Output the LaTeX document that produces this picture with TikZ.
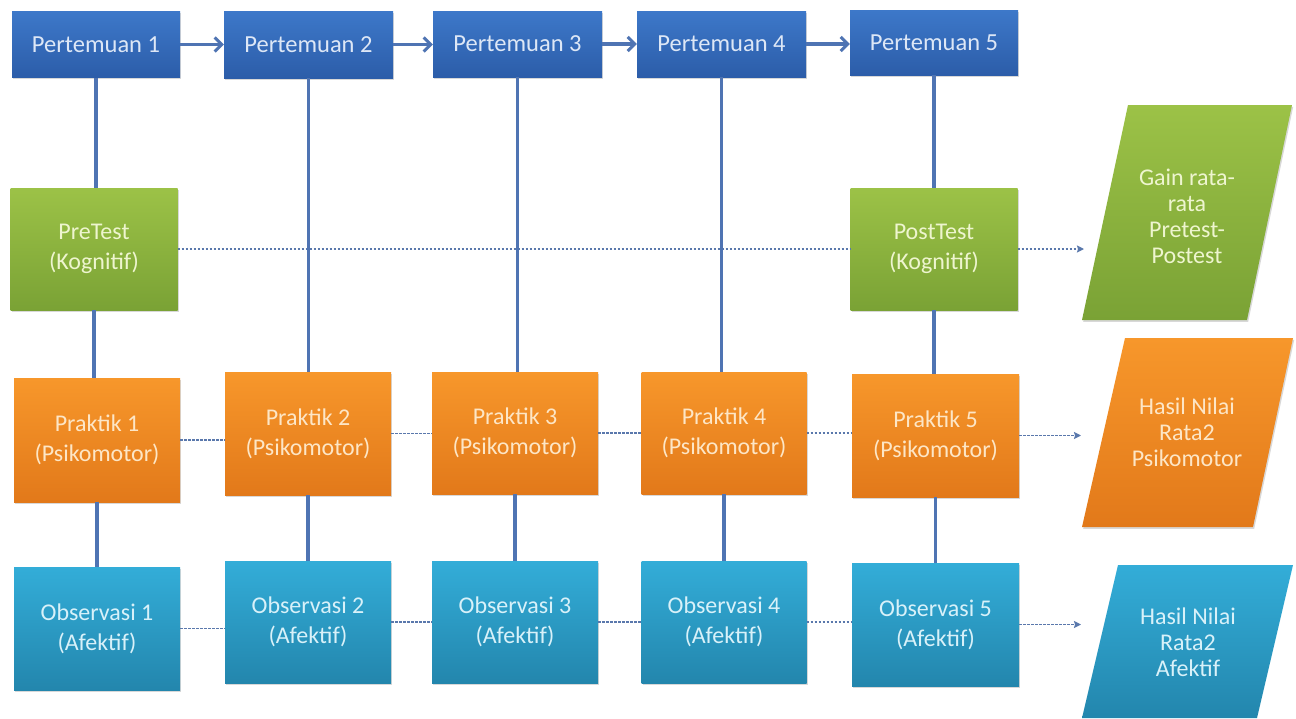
\documentclass[tikz,border=0pt]{standalone}
\usepackage{fontspec}
\setmainfont{Carlito}
\usetikzlibrary{arrows.meta,shadows,calc}
\definecolor{ptop}{HTML}{3D78C9}\definecolor{pbot}{HTML}{2C5DA9}
\definecolor{gtop}{HTML}{9CC247}\definecolor{gbot}{HTML}{7AA235}
\definecolor{otop}{HTML}{F7972B}\definecolor{obot}{HTML}{E2791A}
\definecolor{ctop}{HTML}{33ADD8}\definecolor{cbot}{HTML}{2386AD}
\definecolor{ptxt}{HTML}{DDE7F6}\definecolor{gtxt}{HTML}{EEF5CF}
\definecolor{otxt}{HTML}{FDE6C6}\definecolor{ctxt}{HTML}{D8F1F9}
\definecolor{linec}{HTML}{4F74B3}\definecolor{dotc}{HTML}{5A78AC}
\tikzset{
  boxbase/.style={rectangle,inner sep=0pt,align=center,
    font=\fontsize{24}{30}\selectfont,
    drop shadow={shadow xshift=1.2pt,shadow yshift=-1.8pt,opacity=0.3}},
  meet/.style={boxbase,top color=ptop,bottom color=pbot,text=ptxt,
    font=\fontsize{24.5}{30}\selectfont},
  kog/.style={boxbase,top color=gtop,bottom color=gbot,text=gtxt},
  psi/.style={boxbase,top color=otop,bottom color=obot,text=otxt},
  afe/.style={boxbase,top color=ctop,bottom color=cbot,text=ctxt},
  outtxt/.style={align=center,inner sep=0pt,font=\fontsize{24}{26}\selectfont},
  vline/.style={draw=linec,line width=3.2pt},
  harrow/.style={draw=linec,line width=3.2pt,-{Straight Barb[length=7pt,width=14pt,line width=3pt]}},
  dotline/.style={draw=dotc,line width=1.8pt,dash pattern=on 2.5pt off 1.5pt},
  dotarrow/.style={dotline,-{Stealth[length=7pt,width=7pt,inset=1pt]}},
}
\begin{document}
\begin{tikzpicture}[x=1pt,y=-1pt]
\useasboundingbox[fill=white] (0,0) rectangle (1296,718);
% top row
\node[meet,minimum width=168pt,minimum height=66pt] (p1) at (96,44.5) {Pertemuan 1};
\node[meet,minimum width=169pt,minimum height=67pt] (p2) at (308.5,44.5) {Pertemuan 2};
\node[meet,minimum width=169pt,minimum height=66pt] (p3) at (517.5,44) {Pertemuan 3};
\node[meet,minimum width=169pt,minimum height=66pt] (p4) at (721.5,44) {Pertemuan 4};
\node[meet,minimum width=168pt,minimum height=65pt] (p5) at (934,42.5) {Pertemuan 5};
% kognitif
\node[kog,minimum width=167pt,minimum height=122pt] (pre) at (94,249) {PreTest\\(Kognitif)};
\node[kog,minimum width=167pt,minimum height=122pt] (post) at (934,249) {PostTest\\(Kognitif)};
% psikomotor
\node[psi,minimum width=166pt,minimum height=124pt] (pr1) at (97,440) {Praktik 1\\(Psikomotor)};
\node[psi,minimum width=166pt,minimum height=123pt] (pr2) at (308,433.5) {Praktik 2\\(Psikomotor)};
\node[psi,minimum width=166pt,minimum height=122pt] (pr3) at (515,433) {Praktik 3\\(Psikomotor)};
\node[psi,minimum width=165pt,minimum height=122pt] (pr4) at (724,433) {Praktik 4\\(Psikomotor)};
\node[psi,minimum width=167pt,minimum height=123pt] (pr5) at (935.5,435.5) {Praktik 5\\(Psikomotor)};
% afektif
\node[afe,minimum width=166pt,minimum height=123pt] (ob1) at (97,628.5) {Observasi 1\\(Afektif)};
\node[afe,minimum width=166pt,minimum height=122pt] (ob2) at (308,622) {Observasi 2\\(Afektif)};
\node[afe,minimum width=166pt,minimum height=122pt] (ob3) at (515,622) {Observasi 3\\(Afektif)};
\node[afe,minimum width=165pt,minimum height=122pt] (ob4) at (724,622) {Observasi 4\\(Afektif)};
\node[afe,minimum width=167pt,minimum height=123pt] (ob5) at (935.5,624.5) {Observasi 5\\(Afektif)};
% output parallelograms
\shade[top color=gtop,bottom color=gbot,drop shadow={shadow xshift=1.2pt,shadow yshift=-1.8pt,opacity=0.3}]
  (1128,105) -- (1292,105) -- (1247,320) -- (1082,320) -- cycle;
\shade[top color=otop,bottom color=obot,drop shadow={shadow xshift=1.2pt,shadow yshift=-1.8pt,opacity=0.3}]
  (1125,338) -- (1293,338) -- (1253,527) -- (1082,527) -- cycle;
\shade[top color=ctop,bottom color=cbot]
  (1118,565) -- (1293,565) -- (1257,718) -- (1082,718) -- cycle;
\node[outtxt,text=gtxt] (gain) at (1187,216) {Gain rata-\\rata\\Pretest-\\Postest};
\node[outtxt,text=otxt] (hpsi) at (1187,432) {Hasil Nilai\\Rata2\\Psikomotor};
\node[outtxt,text=ctxt] (hafe) at (1188,642) {Hasil Nilai\\Rata2\\Afektif};
\coordinate (gin) at (1084,249);
\coordinate (pin) at (1081,435.5);
\coordinate (ain) at (1081,624.5);
% horizontal arrows
\foreach \a/\b in {p1/p2,p2/p3,p3/p4,p4/p5}
  \draw[harrow] (\a.east) -- (\a.east -| \b.west);
% dotted connectors
\draw[dotline] (pre.east) -- (pre.east -| post.west);
\draw[dotarrow] (post.east) -- (gin);
\foreach \a/\b in {pr1/pr2,pr2/pr3,pr3/pr4,pr4/pr5,ob1/ob2,ob2/ob3,ob3/ob4,ob4/ob5}
  \draw[dotline] (\a.east) -- (\a.east -| \b.west);
\draw[dotarrow] (pr5.east) -- (pin);
\draw[dotarrow] (ob5.east) -- (ain);
% vertical lines
\draw[vline] (p1.south) -- (p1.south |- pre.north);
\draw[vline] (pre.south) -- (pre.south |- pr1.north);
\draw[vline] (pr1.south) -- (pr1.south |- ob1.north);
\foreach \n in {2,3,4}{
  \draw[vline] (p\n.south) -- (p\n.south |- pr\n.north);
  \draw[vline] (pr\n.south) -- (pr\n.south |- ob\n.north);
}
\draw[vline] (p5.south) -- (p5.south |- post.north);
\draw[vline] (post.south) -- (post.south |- pr5.north);
\draw[vline] (pr5.south) -- (pr5.south |- ob5.north);
\end{tikzpicture}
\end{document}
